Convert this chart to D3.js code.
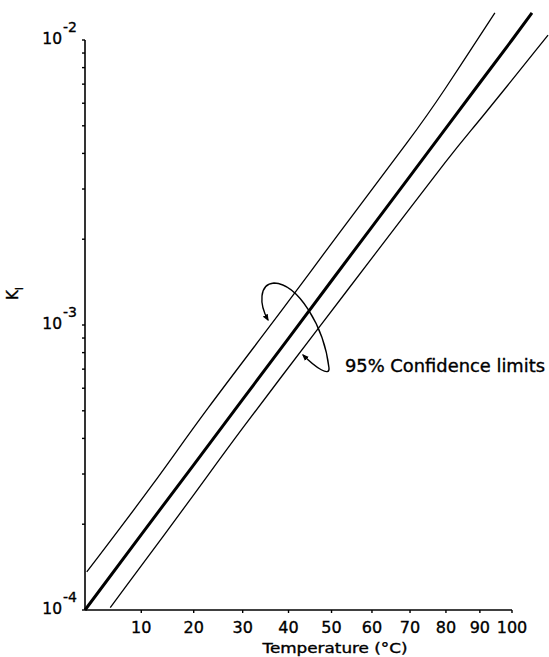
<!DOCTYPE html>
<html>
<head>
<meta charset="utf-8">
<script src="https://cdn.jsdelivr.net/npm/d3@7"></script>
<style>
  html, body { margin: 0; padding: 0; background: #fff; }
  svg { display: block; }
  text { font-family: "DejaVu Sans", "Liberation Sans", sans-serif; fill: #000; stroke: #000; stroke-width: 0.35; }
</style>
</head>
<body>
<script>
// ---- data ----
const xTickValues = [10, 20, 30, 40, 50, 60, 70, 80, 90, 100];
const yDecades = [1e-4, 1e-3, 1e-2];
const yDecadeExponents = ["-4", "-3", "-2"];

const mainT = [0, 10, 20, 30, 40, 50, 60, 70, 80, 90, 100, 106.5];
const mainK = [1.00e-4, 1.84e-4, 3.23e-4, 5.48e-4, 8.98e-4, 1.43e-3, 2.21e-3, 3.33e-3, 4.91e-3, 7.08e-3, 1.00e-2, 1.245e-2];

const upperT = [0.3, 12.9, 21.2, 40.3, 49.6, 71.9, 78.3, 94.6];
const upperK = [1.36e-4, 2.86e-4, 4.72e-4, 1.22e-3, 1.91e-3, 4.83e-3, 6.31e-3, 1.244e-2];

const lowerT = [4.4, 20.8, 28.0, 49.6, 57.7, 83.5, 87.6, 111.9];
const lowerK = [1.02e-4, 2.64e-4, 3.95e-4, 1.10e-3, 1.56e-3, 4.28e-3, 4.83e-3, 1.04e-2];

const xLabel = "Temperature (°C)";
const annotationText = "95% Confidence limits";

// ---- layout ----
const W = 549, H = 657;
const svg = d3.select("body").append("svg").attr("width", W).attr("height", H);

// x axis is reciprocal absolute temperature (Arrhenius plot)
const inv = t => 1 / (t + 273.15);
const x = d3.scaleLinear().domain([inv(0), inv(100)]).range([85, 512]);
const y = d3.scaleLog().domain([1e-4, 1e-2]).range([610, 40]);
const xT = t => x(inv(t));

// marker for arrows
const defs = svg.append("defs");
defs.append("marker")
  .attr("id", "arr").attr("viewBox", "0 0 10 10")
  .attr("refX", 8).attr("refY", 5)
  .attr("markerWidth", 7).attr("markerHeight", 7)
  .attr("markerUnits", "userSpaceOnUse")
  .attr("orient", "auto-start-reverse")
  .append("path").attr("d", "M0,1 L10,5 L0,9 Z").attr("fill", "#000");

// ---- axes ----
const gx = svg.append("g").attr("transform", `translate(0,${y(1e-4)})`);
gx.append("line").attr("x1", x(inv(0))).attr("x2", x(inv(100)))
  .attr("stroke", "#000").attr("stroke-width", 1.6);
gx.selectAll("line.tick").data(xTickValues).join("line").attr("class", "tick")
  .attr("x1", d => xT(d)).attr("x2", d => xT(d)).attr("y1", 0).attr("y2", 3)
  .attr("stroke", "#000").attr("stroke-width", 1.4);
gx.selectAll("text").data(xTickValues).join("text")
  .attr("x", d => xT(d)).attr("y", 23)
  .attr("text-anchor", "middle").attr("font-size", 16)
  .text(d => d);

svg.append("text").attr("x", 335).attr("y", 653)
  .attr("text-anchor", "middle").attr("font-size", 13.5)
  .attr("textLength", 145).attr("lengthAdjust", "spacingAndGlyphs")
  .text(xLabel);

const gy = svg.append("g").attr("transform", `translate(${x(inv(0))},0)`);
gy.append("line").attr("y1", y(1e-4)).attr("y2", y(1e-2))
  .attr("stroke", "#000").attr("stroke-width", 1.6);
const minorTicks = [];
for (let d = 0; d < yDecades.length - 1; d++) {
  for (let m = 2; m <= 9; m++) minorTicks.push(yDecades[d] * m);
}
gy.selectAll("line.minor").data(minorTicks).join("line").attr("class", "minor")
  .attr("x1", -3).attr("x2", 0).attr("y1", d => y(d)).attr("y2", d => y(d))
  .attr("stroke", "#000").attr("stroke-width", 1.4);
gy.selectAll("line.major").data(yDecades).join("line").attr("class", "major")
  .attr("x1", -3).attr("x2", 0).attr("y1", d => y(d)).attr("y2", d => y(d))
  .attr("stroke", "#000").attr("stroke-width", 1.4);

const ylab = gy.selectAll("g.ylab").data(yDecades).join("g").attr("class", "ylab")
  .attr("transform", d => `translate(0,${y(d)})`);
ylab.append("text").attr("x", -23).attr("y", 4)
  .attr("text-anchor", "end").attr("font-size", 15.5)
  .text("10");
ylab.append("text").attr("x", -22).attr("y", -8)
  .attr("text-anchor", "start").attr("font-size", 14)
  .text((d, i) => yDecadeExponents[i]);

// y label K_I rotated
const yl = svg.append("text").attr("transform", "translate(18,300) rotate(-90)")
  .attr("font-size", 15);
yl.append("tspan").text("K");
yl.append("tspan").attr("dy", 5).attr("font-size", 11).text("I");

// ---- lines ----
const lineLin = d3.line().x(d => xT(d[0])).y(d => y(d[1]));
const lineSmooth = d3.line().x(d => xT(d[0])).y(d => y(d[1])).curve(d3.curveBasis);

svg.append("path").datum(upperT.map((t, i) => [t, upperK[i]]))
  .attr("d", lineSmooth).attr("fill", "none").attr("stroke", "#000").attr("stroke-width", 1.3);
svg.append("path").datum(lowerT.map((t, i) => [t, lowerK[i]]))
  .attr("d", lineSmooth).attr("fill", "none").attr("stroke", "#000").attr("stroke-width", 1.3);
svg.append("path").datum(mainT.map((t, i) => [t, mainK[i]]))
  .attr("d", lineLin).attr("fill", "none").attr("stroke", "#000").attr("stroke-width", 3);

// ---- annotation ----
svg.append("path")
  .attr("d", "M268,320 C259,304 259,284 274,283 C298,284 324,326 329,368 C330,377 316,368 303,355")
  .attr("fill", "none").attr("stroke", "#000").attr("stroke-width", 1.4)
  .attr("marker-start", "url(#arr)").attr("marker-end", "url(#arr)");

svg.append("text").attr("x", 345).attr("y", 372)
  .attr("font-size", 17).attr("textLength", 200).attr("lengthAdjust", "spacingAndGlyphs")
  .text(annotationText);
</script>
</body>
</html>
